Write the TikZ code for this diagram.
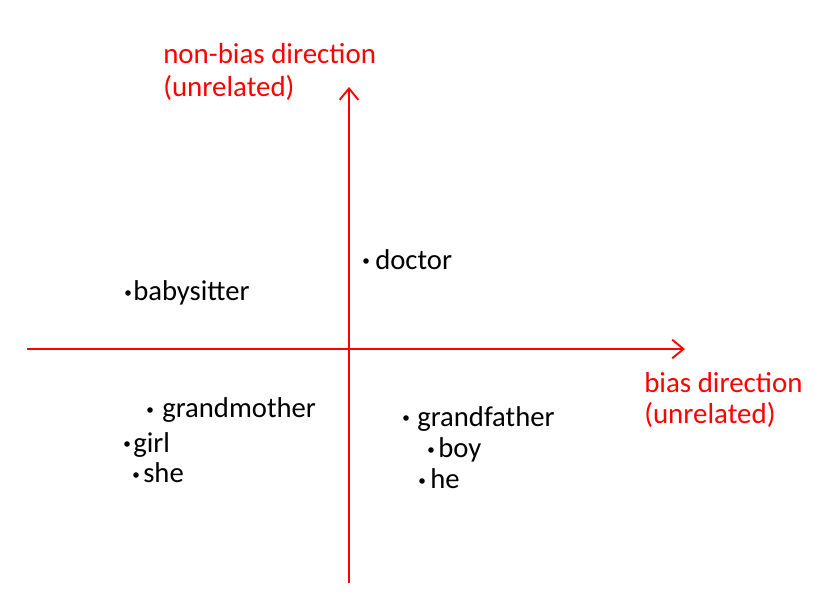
\documentclass[tikz,border=0pt]{standalone}
\usepackage{fontspec}
\setmainfont{Carlito}
\usetikzlibrary{arrows.meta}
\begin{document}
\begin{tikzpicture}[x=0.75pt,y=-0.75pt,
  axis/.style={draw=red, line width=1.4pt, -{Straight Barb[length=8.5pt,width=14pt]}},
  lbl/.style={text=red, anchor=base west, inner sep=0pt, font=\fontsize{21.7pt}{24pt}\selectfont},
  word/.style={anchor=base west, inner sep=0pt, font=\fontsize{21.5pt}{24pt}\selectfont},
  pt/.style={circle, fill=black, inner sep=0pt, minimum size=4.2pt}]
\useasboundingbox (0,0) rectangle (838,603);
% axes
\coordinate (vb) at (349,583);
\coordinate (vt) at (349,87);
\coordinate (hl) at (27,349);
\coordinate (hr) at (685,349);
\draw[axis] (vb) -- (vt);
\draw[axis] (hl) -- (hr);
% axis labels
\node[lbl] (nb1) at (163,63) {non-bias direction};
\node[lbl] (nb2) at (163,96) {(unrelated)};
\node[lbl] (b1) at (644,392) {bias direction};
\node[lbl] (b2) at (644,423) {(unrelated)};
% words
\node[pt] (pbaby) at (128,293) {};
\node[word] (baby) at (133,300) {babysitter};
\node[pt] (pdoc) at (366,261) {};
\node[word] (doc) at (375,269) {doctor};
\node[pt] (pgm) at (150,410) {};
\node[word] (gm) at (162,417) {grandmother};
\node[pt] (pgirl) at (127,444) {};
\node[word] (girl) at (133,452) {girl};
\node[pt] (pshe) at (136,475) {};
\node[word] (she) at (143,482) {she};
\node[pt] (pgf) at (406,418) {};
\node[word] (gf) at (417,426) {grandfather};
\node[pt] (pboy) at (431,450) {};
\node[word] (boy) at (438,457) {boy};
\node[pt] (phe) at (422,481) {};
\node[word] (he) at (430,488) {he};
\end{tikzpicture}
\end{document}
